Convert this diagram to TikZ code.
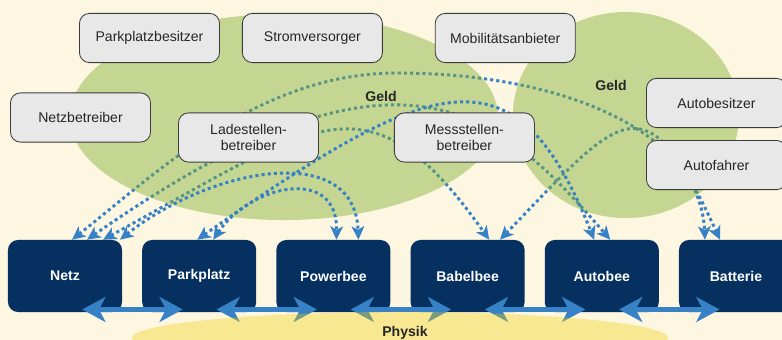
\documentclass[tikz,border=0pt]{standalone}
\usepackage{fontspec}
\setmainfont{Liberation Sans}
\usepackage{tikz}
\usetikzlibrary{arrows.meta, positioning, backgrounds}
\definecolor{cream}{HTML}{FDF6E1}
\definecolor{boxgray}{HTML}{E8E8E8}
\definecolor{bordergray}{HTML}{3C3C3C}
\definecolor{navyblue}{HTML}{05305F}
\definecolor{flowblue}{HTML}{3781C6}
\definecolor{geldgreen}{RGB}{129,176,53}
\definecolor{physyellow}{RGB}{240,208,0}

\begin{document}
\begin{tikzpicture}[
    x=0.025cm, y=-0.025cm,
    actor/.style={rectangle, rounded corners=0.25cm, draw=bordergray, line width=0.6pt, fill=boxgray, minimum width=3.5cm, minimum height=1.23cm, align=center, text=black!85, font=\fontsize{10}{11.5}\selectfont},
    entity/.style={rectangle, rounded corners=0.25cm, fill=navyblue, minimum width=2.85cm, minimum height=1.8cm, text=white, font=\bfseries\fontsize{10}{12}\selectfont},
    areatext/.style={font=\bfseries\fontsize{10}{12}\selectfont, text=black!85},
    geldarrow/.style={{Stealth[length=9.5pt,width=9pt,inset=2.5pt]}-{Stealth[length=9.5pt,width=9pt,inset=2.5pt]}, flowblue, line width=2.1pt, dash pattern=on 2.2pt off 2.2pt},
    physarrow/.style={{Stealth[length=0.58cm,width=0.62cm,inset=0.16cm]}-{Stealth[length=0.58cm,width=0.62cm,inset=0.16cm]}, flowblue, line width=3.8pt}
]
\useasboundingbox (0,0) rectangle (782,340);

% Physical layer
\node[entity] (netz) at (65,276) {Netz};
\node[entity, right=0.49cm of netz] (parkplatz) {Parkplatz};
\node[entity, right=0.49cm of parkplatz] (powerbee) {Powerbee};
\node[entity, right=0.49cm of powerbee] (babelbee) {Babelbee};
\node[entity, right=0.49cm of babelbee] (autobee) {Autobee};
\node[entity, right=0.49cm of autobee] (batterie) {Batterie};

% Actors
\node[actor] (parkplatzbesitzer) at (149.5,38) {Parkplatzbesitzer};
\node[actor, right=0.55cm of parkplatzbesitzer] (stromversorger) {Stromversorger};
\node[actor, right=1.3cm of stromversorger] (mobilitaet) {Mobilitätsanbieter};
\node[actor] (netzbetreiber) at (80.5,117.5) {Netzbetreiber};
\node[actor] (ladestellen) at (248.5,137.5) {Ladestellen-\\betreiber};
\node[actor, right=1.875cm of ladestellen] (messstellen) {Messstellen-\\betreiber};
\node[actor] (autobesitzer) at (716.5,103) {Autobesitzer};
\node[actor, below=0.3cm of autobesitzer] (autofahrer) {Autofahrer};

\node[areatext] (geldlinks) at (381,96) {Geld};
\node[areatext] (geldrechts) at (611,85) {Geld};
\coordinate (geldtop) at (397,73);

% Geld flows and areas
\begin{scope}[on background layer]
\fill[cream] (0,0) rectangle (782,340);
\draw[geldarrow] ([xshift=0.175cm]netz.north) .. controls (160,170) and (260,73) .. (geldtop) .. controls (560,73) and (700,130) .. ([xshift=-0.775cm]batterie.north);
\draw[geldarrow] ([xshift=0.55cm]netz.north) .. controls (395,25) and (493,103) .. ([xshift=0.21cm]autobee.north);
\draw[geldarrow] ([xshift=0.95cm]netz.north) .. controls (316,124) and (367,67) .. ([xshift=0.54cm]babelbee.north);
\draw[geldarrow] ([xshift=0.81cm]babelbee.north) .. controls (622,113) and (645,76) .. ([xshift=-0.4cm]batterie.north);
\fill[geldgreen, opacity=0.45] (284,117) ellipse [x radius=5.35cm, y radius=2.575cm];
\fill[geldgreen, opacity=0.45] (626,115) ellipse [x radius=2.825cm, y radius=2.575cm];
\draw[geldarrow] ([xshift=1.375cm]netz.north) .. controls (210,168) and (355,140) .. ([xshift=0.625cm]powerbee.north);
\draw[geldarrow] ([xshift=0.35cm]parkplatz.north) .. controls (250,185) and (338,165) .. ([xshift=0.075cm]powerbee.north);
\draw[geldarrow] ([xshift=-0.05cm]parkplatz.north) .. controls (435,73) and (516,44) .. ([xshift=-0.19cm]autobee.north);
\end{scope}

% Physik
\draw[physarrow] ([xshift=0.43cm, yshift=0.07cm]netz.south) -- ([xshift=-0.41cm, yshift=0.07cm]parkplatz.south);
\draw[physarrow] ([xshift=0.43cm, yshift=0.07cm]parkplatz.south) -- ([xshift=-0.41cm, yshift=0.07cm]powerbee.south);
\draw[physarrow] ([xshift=0.43cm, yshift=0.07cm]powerbee.south) -- ([xshift=-0.41cm, yshift=0.07cm]babelbee.south);
\draw[physarrow] ([xshift=0.43cm, yshift=0.07cm]babelbee.south) -- ([xshift=-0.41cm, yshift=0.07cm]autobee.south);
\draw[physarrow] ([xshift=0.43cm, yshift=0.07cm]autobee.south) -- ([xshift=-0.41cm, yshift=0.07cm]batterie.south);
\fill[physyellow, opacity=0.35] (400,338) ellipse [x radius=6.7cm, y radius=0.65cm];
\node[areatext] (physik) at (405,333) {Physik};

\end{tikzpicture}
\end{document}
